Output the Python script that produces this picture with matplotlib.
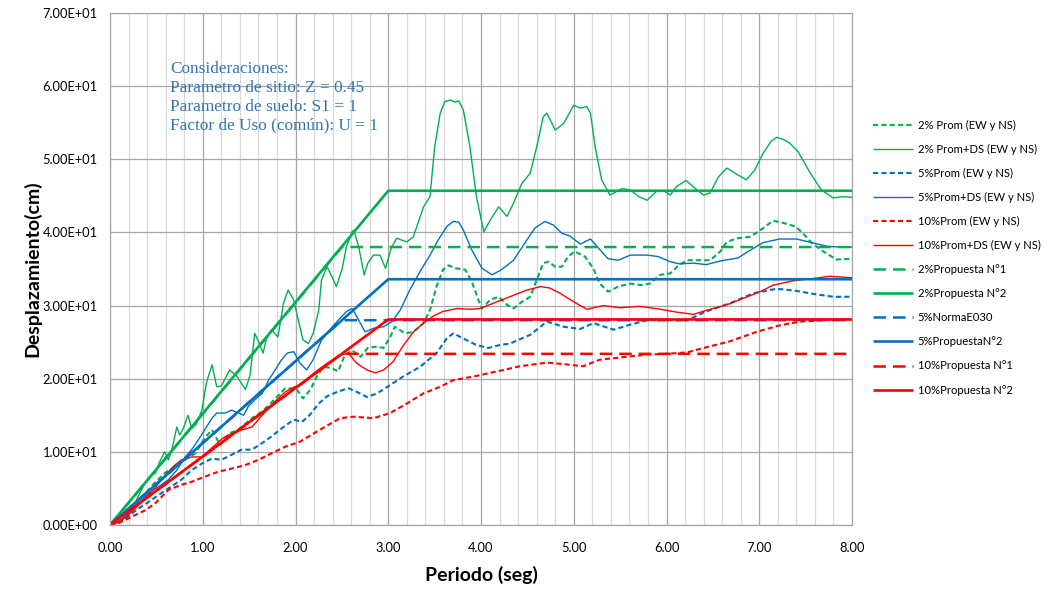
import matplotlib.pyplot as plt
from matplotlib.ticker import MultipleLocator, FuncFormatter

# Periodo (seg) / desplazamiento (cm) para cada espectro
t_2_prom = [0, 0.1, 0.2, 0.3, 0.4, 0.5, 0.6, 0.7, 0.83, 0.92, 1.02, 1.10, 1.19, 1.28, 1.38, 1.53, 1.64, 1.76, 1.89,
            2.01, 2.08, 2.16, 2.23, 2.30, 2.38, 2.46, 2.53, 2.61, 2.70, 2.78, 2.88, 2.95, 3.02, 3.07, 3.18, 3.27, 3.38,
            3.45, 3.52, 3.59, 3.65, 3.72, 3.83, 3.90, 3.97, 4.01, 4.10, 4.19, 4.28, 4.35, 4.44, 4.53, 4.60, 4.67, 4.73,
            4.80, 4.87, 4.94, 5.01, 5.12, 5.21, 5.28, 5.37, 5.48, 5.61, 5.73, 5.82, 5.93, 6.04, 6.13, 6.22, 6.36, 6.47,
            6.58, 6.65, 6.76, 6.90, 7.01, 7.15, 7.26, 7.39, 7.47, 7.57, 7.69, 7.83, 8.0]
d_2_prom = [0, 0.5, 1.7, 3.2, 4.6, 6.0, 7.2, 8.0, 9.1, 9.8, 11.9, 13.0, 10.9, 12.5, 13.0, 14.6, 15.5, 17.0, 18.7,
            18.6, 17.3, 18.5, 20.3, 21.6, 21.5, 21.0, 23.2, 23.9, 23.0, 24.2, 24.4, 24.2, 25.7, 27.1, 26.2, 26.4, 27.6,
            29.4, 32.6, 34.9, 35.5, 35.1, 34.9, 33.3, 30.8, 29.6, 30.8, 31.2, 30.1, 29.6, 30.5, 31.2, 33.5, 35.8, 36.0,
            35.3, 35.3, 36.7, 37.4, 36.7, 35.1, 33.0, 31.9, 32.6, 33.0, 32.8, 33.0, 34.2, 34.4, 35.5, 36.2, 36.2, 36.2,
            37.4, 38.7, 39.2, 39.4, 40.3, 41.6, 41.3, 40.8, 39.9, 38.5, 37.4, 36.3, 36.4]

t_2_ds = [0, 0.1, 0.16, 0.22, 0.27, 0.32, 0.37, 0.41, 0.45, 0.49, 0.53, 0.56, 0.59, 0.63, 0.67, 0.72, 0.75, 0.79, 0.84,
          0.88, 0.93, 0.99, 1.04, 1.10, 1.15, 1.20, 1.29, 1.37, 1.46, 1.51, 1.56, 1.61, 1.65, 1.69, 1.74, 1.81, 1.87,
          1.92, 1.98, 2.03, 2.08, 2.14, 2.19, 2.25, 2.28, 2.34, 2.39, 2.44, 2.50, 2.55, 2.61, 2.63, 2.68, 2.74, 2.78,
          2.84, 2.91, 2.97, 3.03, 3.09, 3.20, 3.27, 3.38, 3.45, 3.50, 3.56, 3.61, 3.67, 3.72, 3.76, 3.81, 3.88, 3.95,
          4.03, 4.10, 4.19, 4.28, 4.35, 4.44, 4.53, 4.60, 4.67, 4.71, 4.80, 4.89, 5.00, 5.07, 5.14, 5.18, 5.23, 5.30,
          5.39, 5.52, 5.61, 5.70, 5.79, 5.89, 5.97, 6.04, 6.11, 6.21, 6.31, 6.40, 6.47, 6.56, 6.65, 6.75, 6.86, 6.95,
          7.04, 7.13, 7.19, 7.26, 7.33, 7.42, 7.55, 7.67, 7.80, 7.89, 8.0]
d_2_ds = [0, 0.5, 1.1, 2.0, 3.0, 4.3, 5.6, 6.4, 6.8, 7.1, 8.5, 9.3, 10.0, 8.9, 10.5, 13.4, 12.3, 13.2, 15.0,
          13.2, 13.8, 15.7, 19.5, 21.9, 18.9, 19.0, 21.2, 20.3, 18.5, 20.5, 26.2, 24.8, 23.5, 25.7, 26.7, 25.7, 30.3,
          32.1, 30.8, 28.0, 25.3, 24.8, 26.2, 29.4, 33.5, 35.3, 34.0, 32.6, 34.9, 38.1, 40.1, 40.3, 38.1, 34.2, 35.8,
          36.9, 36.9, 35.1, 37.8, 39.2, 38.7, 39.4, 43.5, 44.9, 51.7, 56.3, 57.9, 58.1, 57.8, 58.0, 56.7, 51.7, 44.9,
          40.1, 41.7, 43.5, 42.2, 44.0, 46.7, 48.1, 51.7, 55.8, 56.3, 54.0, 54.9, 57.4, 57.0, 57.2, 56.3, 51.7, 47.2,
          45.1, 46.0, 45.8, 44.9, 44.4, 45.6, 45.7, 45.1, 46.3, 47.1, 46.0, 45.1, 45.4, 47.6, 48.8, 48.0, 47.2, 48.5,
          50.8, 52.5, 53.0, 52.7, 52.2, 51.0, 48.1, 45.8, 44.7, 44.9, 44.8]

t_5_prom = [0, 0.1, 0.2, 0.3, 0.4, 0.5, 0.63, 0.77, 0.88, 0.99, 1.10, 1.20, 1.31, 1.42, 1.53, 1.64, 1.74, 1.85, 1.98,
            2.07, 2.15, 2.25, 2.34, 2.45, 2.57, 2.66, 2.77, 2.88, 2.98, 3.16, 3.34, 3.52, 3.63, 3.70, 3.81, 3.95, 4.08,
            4.20, 4.31, 4.53, 4.71, 4.89, 5.07, 5.21, 5.43, 5.61, 5.79, 6.00, 6.22, 6.43, 6.68, 6.94, 7.19, 7.40, 7.58,
            7.80, 8.0]
d_5_prom = [0, 0.4, 1.2, 2.2, 3.0, 3.9, 5.0, 6.2, 7.5, 8.4, 9.1, 8.9, 9.6, 10.3, 10.3, 11.2, 12.1, 13.2, 14.4,
            14.1, 15.0, 16.6, 17.6, 18.2, 18.7, 18.2, 17.5, 18.0, 18.8, 20.3, 21.6, 23.5, 25.5, 26.2, 25.5, 24.6, 24.2,
            24.6, 24.8, 26.0, 27.8, 27.1, 26.8, 27.6, 26.7, 27.4, 28.0, 28.0, 28.0, 29.2, 30.3, 31.7, 32.3, 32.0, 31.6,
            31.2, 31.2]

t_5_ds = [0, 0.1, 0.2, 0.31, 0.41, 0.52, 0.63, 0.72, 0.81, 0.88, 0.95, 1.02, 1.10, 1.15, 1.24, 1.31, 1.37, 1.44, 1.49,
          1.56, 1.64, 1.71, 1.78, 1.85, 1.91, 1.98, 2.05, 2.12, 2.19, 2.28, 2.37, 2.46, 2.55, 2.61, 2.66, 2.75, 2.84,
          2.95, 3.04, 3.13, 3.23, 3.34, 3.45, 3.54, 3.63, 3.70, 3.76, 3.81, 3.90, 4.01, 4.12, 4.22, 4.35, 4.47, 4.58,
          4.69, 4.78, 4.87, 4.96, 5.07, 5.18, 5.27, 5.37, 5.48, 5.61, 5.79, 5.91, 6.04, 6.14, 6.29, 6.43, 6.58, 6.77,
          6.88, 7.04, 7.22, 7.40, 7.57, 7.73, 7.87, 8.0]
d_5_ds = [0, 0.5, 1.6, 3.0, 4.3, 5.2, 6.2, 7.5, 9.3, 10.3, 11.6, 13.0, 14.6, 15.3, 15.3, 15.7, 15.4, 15.0, 16.2,
          17.1, 18.0, 19.8, 21.2, 22.6, 23.5, 23.7, 22.1, 21.2, 22.6, 25.3, 26.7, 28.0, 29.2, 29.6, 28.5, 26.4, 26.9,
          27.1, 27.8, 29.4, 32.1, 34.6, 36.9, 39.0, 40.8, 41.5, 41.4, 40.3, 37.6, 35.1, 34.2, 34.9, 36.2, 38.5, 40.6,
          41.5, 41.0, 39.9, 39.5, 38.4, 39.1, 37.8, 36.4, 36.2, 36.9, 36.9, 36.7, 36.0, 35.7, 35.8, 35.6, 36.1, 36.5,
          37.4, 38.6, 39.1, 39.1, 38.6, 38.1, 38.0, 38.0]

t_10_prom = [0, 0.1, 0.2, 0.31, 0.38, 0.49, 0.63, 0.77, 0.88, 1.02, 1.17, 1.31, 1.46, 1.60, 1.74, 1.89, 2.05, 2.26,
             2.48, 2.62, 2.84, 3.02, 3.20, 3.38, 3.56, 3.70, 3.92, 4.17, 4.42, 4.71, 4.89, 5.10, 5.28, 5.50, 5.79, 6.00,
             6.22, 6.43, 6.68, 6.97, 7.22, 7.44, 7.69, 8.0]
d_10_prom = [0, 0.3, 0.9, 1.6, 2.0, 3.0, 4.8, 5.5, 5.9, 6.6, 7.3, 7.7, 8.2, 8.9, 9.8, 10.7, 11.4, 13.0,
             14.6, 14.8, 14.6, 15.3, 16.6, 18.0, 18.9, 19.8, 20.3, 21.0, 21.7, 22.2, 22.0, 21.7, 22.6, 22.9, 23.3, 23.4,
             23.6, 24.3, 25.1, 26.4, 27.3, 27.8, 28.0, 28.1]

t_10_ds = [0, 0.1, 0.2, 0.3, 0.4, 0.5, 0.6, 0.7, 0.77, 0.88, 0.99, 1.13, 1.22, 1.31, 1.42, 1.53, 1.64, 1.78, 1.89,
           1.99, 2.05, 2.19, 2.34, 2.48, 2.57, 2.66, 2.77, 2.86, 2.95, 3.05, 3.16, 3.27, 3.38, 3.49, 3.59, 3.74, 3.88,
           3.99, 4.13, 4.31, 4.49, 4.64, 4.74, 4.85, 5.00, 5.14, 5.32, 5.50, 5.71, 5.93, 6.11, 6.29, 6.47, 6.65, 6.83,
           7.01, 7.15, 7.37, 7.58, 7.76, 8.0]
d_10_ds = [0, 0.4, 1.4, 2.6, 3.9, 5.3, 6.9, 8.2, 8.9, 9.3, 9.3, 10.9, 11.9, 12.5, 13.0, 13.4, 15.0, 16.9, 18.2,
           18.9, 19.1, 20.7, 22.1, 23.2, 23.5, 22.1, 21.2, 20.8, 21.2, 22.3, 24.5, 26.4, 27.6, 28.6, 29.2, 29.6, 29.5,
           29.6, 30.3, 31.2, 32.1, 32.6, 32.4, 31.7, 30.5, 29.5, 30.0, 29.7, 29.9, 29.5, 29.1, 28.8, 29.5, 30.1, 31.0,
           31.9, 32.8, 33.4, 33.7, 34.0, 33.8]

# Espectros de diseño propuestos: rampa lineal hasta la esquina y luego constante
t_prop1 = [0, 2.5, 8.0]
t_prop2 = [0, 3.0, 8.0]
d_2_prop1 = [0, 38.0, 38.0]
d_2_prop2 = [0, 45.7, 45.7]
d_5_e030 = [0, 28.0, 28.0]
d_5_prop2 = [0, 33.6, 33.6]
d_10_prop1 = [0, 23.4, 23.4]
d_10_prop2 = [0, 28.1, 28.1]

GREEN = "#00B050"
BLUE = "#0070C0"
RED = "#FF0000"
SHORT = (2.5, 1.5)
LONG = (5.0, 2.8)

fig = plt.figure(figsize=(10.47, 5.89), dpi=100)
ax = fig.add_axes([0.1051, 0.1087, 0.7087, 0.8692])

series = [
    (t_2_prom, d_2_prom, GREEN, 1.5, SHORT, "2% Prom (EW y NS)"),
    (t_2_ds, d_2_ds, GREEN, 1.0, None, "2% Prom+DS (EW y NS)"),
    (t_5_prom, d_5_prom, BLUE, 1.5, SHORT, "5%Prom (EW y NS)"),
    (t_5_ds, d_5_ds, BLUE, 1.0, None, "5%Prom+DS (EW y NS)"),
    (t_10_prom, d_10_prom, RED, 1.5, SHORT, "10%Prom (EW y NS)"),
    (t_10_ds, d_10_ds, RED, 1.0, None, "10%Prom+DS (EW y NS)"),
    (t_prop1, d_2_prop1, GREEN, 1.8, LONG, "2%Propuesta N°1"),
    (t_prop2, d_2_prop2, GREEN, 1.9, None, "2%Propuesta N°2"),
    (t_prop1, d_5_e030, BLUE, 1.8, LONG, "5%NormaE030"),
    (t_prop2, d_5_prop2, BLUE, 1.9, None, "5%PropuestaN°2"),
    (t_prop1, d_10_prop1, RED, 1.8, LONG, "10%Propuesta N°1"),
    (t_prop2, d_10_prop2, RED, 1.9, None, "10%Propuesta N°2"),
]

handles = []
for t, d, c, lw, dash, lab in series:
    ln, = ax.plot(t, d, color=c, lw=lw, label=lab, solid_capstyle="butt", dash_capstyle="butt")
    if dash:
        ln.set_dashes(dash)
    handles.append(ln)

ax.set_xlim(0, 8)
ax.set_ylim(0, 70)
ax.xaxis.set_major_locator(MultipleLocator(1))
ax.xaxis.set_minor_locator(MultipleLocator(0.2))
ax.yaxis.set_major_locator(MultipleLocator(10))
ax.grid(which="minor", axis="x", color="#D9D9D9", lw=0.9)
ax.grid(which="major", axis="x", color="#A6A6A6", lw=0.9)
ax.grid(which="major", axis="y", color="#A6A6A6", lw=0.9)
ax.set_axisbelow(True)
for s in ax.spines.values():
    s.set_color("#A6A6A6")
    s.set_linewidth(0.9)

ax.xaxis.set_major_formatter(FuncFormatter(lambda v, p: f"{v:.2f}"))
ax.yaxis.set_major_formatter(FuncFormatter(lambda v, p: f"{v:.2E}"))
ax.tick_params(which="both", length=0, labelsize=9.3)
ax.tick_params(axis="x", pad=12)
ax.tick_params(axis="y", pad=9)
for lbl in ax.get_xticklabels() + ax.get_yticklabels():
    lbl.set_family("Lato")

ax.set_xlabel("Periodo (seg)", fontsize=14, fontweight="bold", family="Lato", labelpad=9)
ax.set_ylabel("Desplazamiento(cm)", fontsize=14, fontweight="bold", family="Lato", labelpad=1)

ax.text(0.65, 63.5, "Consideraciones:\nParametro de sitio: Z = 0.45\nParametro de suelo: S1 = 1\n"
        "Factor de Uso (común): U = 1", family="Liberation Serif", fontsize=12.4, color="#2E75B6",
        va="top", ha="left", linespacing=1.25)

fig.legend(handles=handles, loc="upper left", bbox_to_anchor=(0.824, 0.814), frameon=False,
           prop={"family": "Lato", "size": 8.1}, handlelength=3.55, handletextpad=0.44, labelspacing=1.16)

fig.savefig("out.png", dpi=100)
